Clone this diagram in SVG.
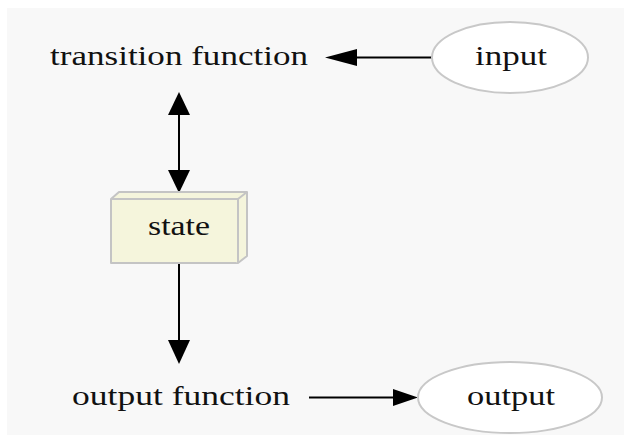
<svg xmlns="http://www.w3.org/2000/svg" width="624" height="445" viewBox="0 0 624 445">
  <style>
    .lbl { font-family: "Liberation Serif", "Times New Roman", serif; font-size: 28px; fill: #111; }
    .edge { stroke: #000; stroke-width: 2; fill: none; }
    .head { fill: #000; stroke: none; }
    .oval { fill: #fff; stroke: #c8c8c8; stroke-width: 2; }
    .box { fill: #f5f5dc; stroke: #c4c4c4; stroke-width: 2; stroke-linejoin: round; }
  </style>
  <rect x="0" y="0" width="624" height="445" fill="#fff"/>
  <rect x="7" y="8" width="617" height="427" fill="#f8f8f8"/>

  <g id="connectors">
    <!-- input -> transition function -->
    <line class="edge" x1="432" y1="57.5" x2="355" y2="57.5"/>
    <polygon class="head" points="325,57.5 357,49 357,66"/>
    <!-- transition function <-> state -->
    <line class="edge" x1="179" y1="113" x2="179" y2="172"/>
    <polygon class="head" points="179,92 168,115 190,115"/>
    <polygon class="head" points="179,193 168,170 190,170"/>
    <!-- state -> output function -->
    <line class="edge" x1="179" y1="263" x2="179" y2="342"/>
    <polygon class="head" points="179,364 168,340 190,340"/>
    <!-- output function -> output -->
    <line class="edge" x1="309" y1="397.5" x2="395" y2="397.5"/>
    <polygon class="head" points="418,397.5 393,389 393,406"/>
  </g>

  <g id="transition_function">
    <text class="lbl" x="50" y="65" textLength="258" lengthAdjust="spacingAndGlyphs">transition function</text>
  </g>

  <g id="input">
    <ellipse class="oval" cx="510" cy="57.5" rx="78" ry="35.5"/>
    <text class="lbl" x="475" y="65" textLength="72" lengthAdjust="spacingAndGlyphs">input</text>
  </g>

  <g id="state">
    <polygon class="box" points="111,199 119,192 247,192 247,256 238,263 111,263"/>
    <polyline class="box" points="111,199 238,199 238,263" fill="none"/>
    <line class="box" x1="238" y1="199" x2="247" y2="192"/>
    <text class="lbl" x="148" y="235" textLength="62" lengthAdjust="spacingAndGlyphs">state</text>
  </g>

  <g id="output_function">
    <text class="lbl" x="72" y="405" textLength="218" lengthAdjust="spacingAndGlyphs">output function</text>
  </g>

  <g id="output">
    <ellipse class="oval" cx="510" cy="397.5" rx="92" ry="35.5"/>
    <text class="lbl" x="467" y="405" textLength="88" lengthAdjust="spacingAndGlyphs">output</text>
  </g>
</svg>
